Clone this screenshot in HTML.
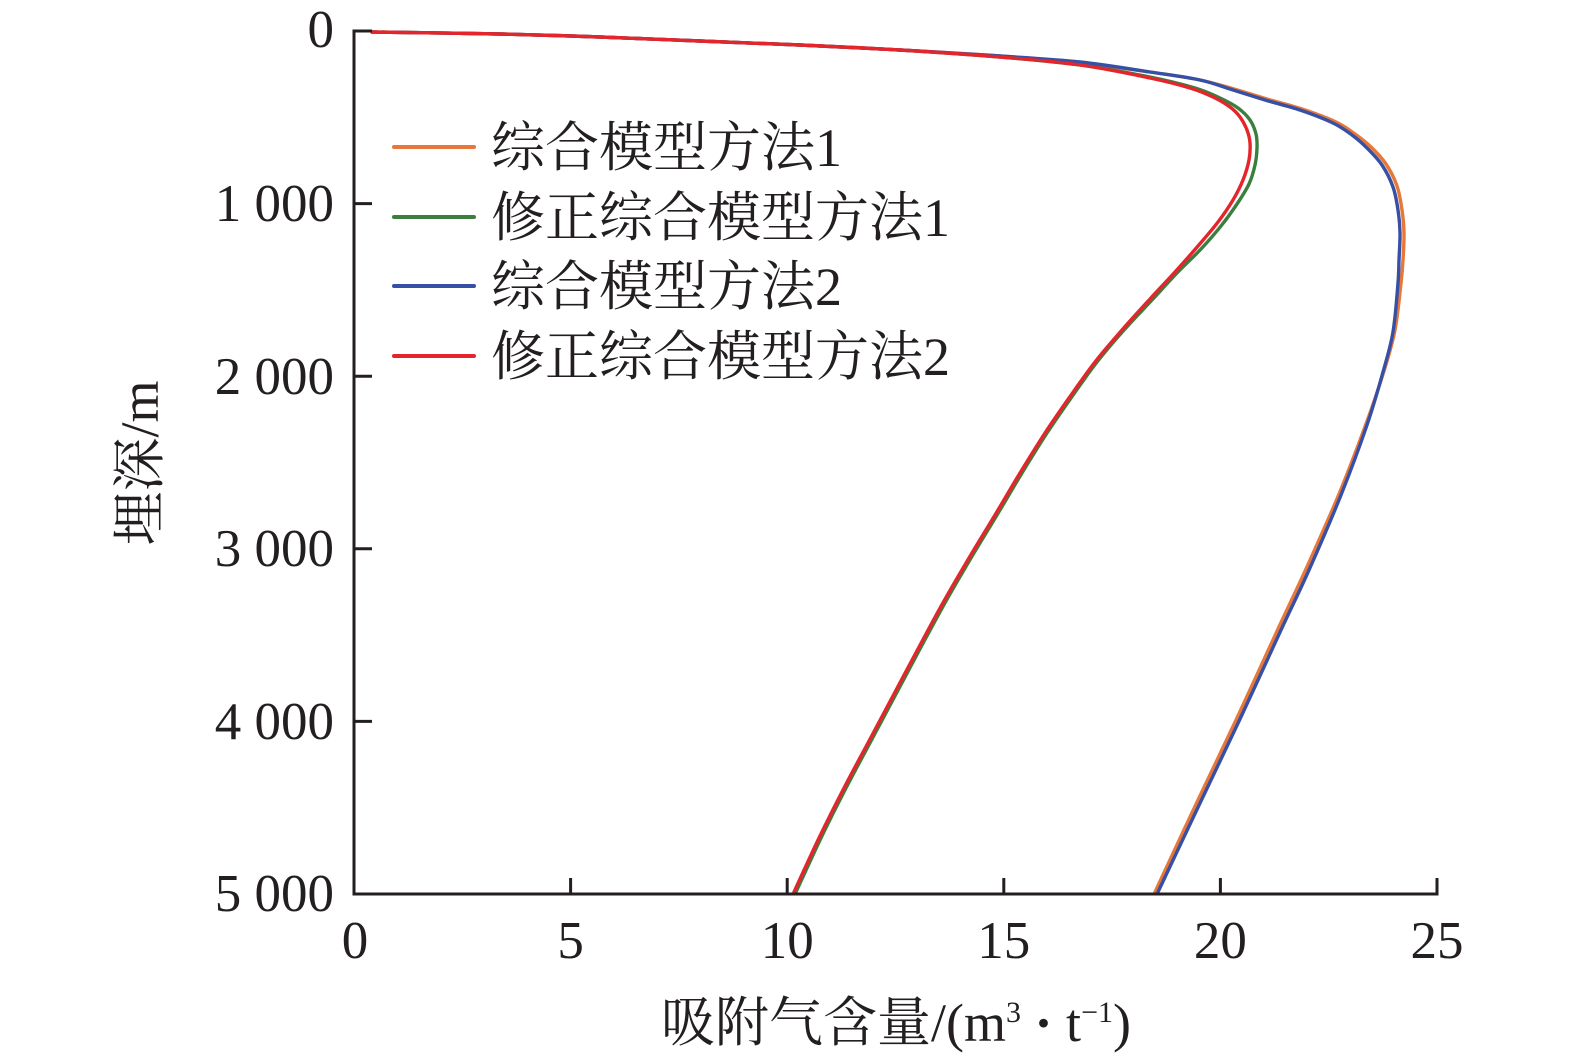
<!DOCTYPE html>
<html>
<head>
<meta charset="utf-8">
<style>
  html,body{margin:0;padding:0;background:#fff;}
  svg{display:block;}
  text{font-family:"Liberation Serif","Noto Serif CJK SC",serif;fill:#231f20;}
</style>
</head>
<body>
<svg id="chart" width="1575" height="1055" viewBox="0 0 1575 1055" xmlns="http://www.w3.org/2000/svg">
  <rect width="1575" height="1055" fill="#fff"/>

  <!-- curves -->
  <g id="curves" fill="none" stroke-width="3.4" stroke-linejoin="round" stroke-linecap="round">
    <!-- orange: 综合模型方法1 -->
    <polyline class="smooth" stroke="#E8773A" points="372,32 500,34 600,37 700,41 800,45 900,50 1000,56 1080,63 1150,72 1200,80 1234,89 1267,99 1302,109 1336,122 1355,134 1371,147 1386,164 1397,186 1402,210 1404,233 1403,260 1401,283 1395,330 1384,371 1366,424 1339,494 1306,569 1278,629 1237,718 1198,800 1155,892"/>
    <!-- green: 修正综合模型方法1 -->
    <polyline class="smooth" stroke="#3B7F3E" points="372,32 500,34 600,37 700,41 800,45 900,50 1000,57 1080,65 1150,77 1195,88 1220,98 1238,108 1250,120 1256,134 1257,148 1255,165 1249,184 1237,204 1221,226 1201,249 1177,273 1152,300 1124,330 1097,362 1071,398 1047,433 1022,473 997,515 971,558 946,601 921,647 896,694 871,741 846,788 821,838 796,892"/>
    <!-- blue: 综合模型方法2 -->
    <polyline class="smooth" stroke="#3550A5" points="372,32 500,34 600,37 700,41 800,45 900,50 1000,56 1080,62 1150,72 1200,80 1233,90 1265,100 1300,110 1333,123 1352,135 1367,148 1382,165 1393,187 1398,210 1400,233 1399,260 1398,283 1393,332 1383,372 1367,425 1341,495 1309,570 1281,630 1240,719 1201,801 1158,892"/>
    <!-- red: 修正综合模型方法2 -->
    <polyline class="smooth" stroke="#E4262C" points="372,32 500,34 600,37 700,41 800,45 900,50 1000,57 1080,65 1150,78 1190,88 1213,97 1230,107 1240,117 1247,130 1250,143 1249,160 1243,180 1233,200 1218,222 1198,246 1175,272 1150,299 1122,330 1095,362 1069,398 1045,433 1020,473 995,515 969,558 944,601 919,647 894,694 869,741 844,788 819,838 794,892"/>
  </g>

  <!-- axes -->
  <g stroke="#231f20" stroke-width="3" fill="none">
    <line x1="354" y1="29.5" x2="354" y2="895.5"/>
    <line x1="352.5" y1="894" x2="1437" y2="894"/>
    <!-- y ticks -->
    <line x1="354" y1="31" x2="372" y2="31"/>
    <line x1="354" y1="203.6" x2="372" y2="203.6"/>
    <line x1="354" y1="376.2" x2="372" y2="376.2"/>
    <line x1="354" y1="548.8" x2="372" y2="548.8"/>
    <line x1="354" y1="721.4" x2="372" y2="721.4"/>
    <!-- x ticks -->
    <line x1="570.6" y1="894" x2="570.6" y2="878"/>
    <line x1="787.2" y1="894" x2="787.2" y2="878"/>
    <line x1="1003.8" y1="894" x2="1003.8" y2="878"/>
    <line x1="1220.4" y1="894" x2="1220.4" y2="878"/>
    <line x1="1437" y1="895.5" x2="1437" y2="878"/>
  </g>

  <!-- y tick labels -->
  <g font-size="53" text-anchor="end">
    <text x="334" y="47">0</text>
    <text x="334" y="221">1 000</text>
    <text x="334" y="394">2 000</text>
    <text x="334" y="566">3 000</text>
    <text x="334" y="739">4 000</text>
    <text x="334" y="911">5 000</text>
  </g>

  <!-- x tick labels -->
  <g font-size="53" text-anchor="middle">
    <text x="355" y="958">0</text>
    <text x="570.6" y="958">5</text>
    <text x="787.2" y="958">10</text>
    <text x="1003.8" y="958">15</text>
    <text x="1220.4" y="958">20</text>
    <text x="1437" y="958">25</text>
  </g>

  <!-- axis titles -->
  <text transform="translate(138,463) rotate(-90)" x="0" y="20" font-size="54" text-anchor="middle">埋深/m</text>
  <text x="896" y="1041" font-size="54" text-anchor="middle">吸附气含量/(m<tspan font-size="30" dy="-19">3</tspan><tspan dy="19" font-weight="bold"> · </tspan>t<tspan font-size="30" dy="-19">−1</tspan><tspan dy="19">)</tspan></text>

  <!-- legend -->
  <g stroke-width="4" stroke-linecap="round">
    <line x1="394" y1="147" x2="474" y2="147" stroke="#E8773A"/>
    <line x1="394" y1="217" x2="474" y2="217" stroke="#3B7F3E"/>
    <line x1="394" y1="286" x2="474" y2="286" stroke="#3550A5"/>
    <line x1="394" y1="356" x2="474" y2="356" stroke="#E4262C"/>
  </g>
  <g font-size="54">
    <text x="491" y="166">综合模型方法1</text>
    <text x="491" y="236">修正综合模型方法1</text>
    <text x="491" y="305">综合模型方法2</text>
    <text x="491" y="375">修正综合模型方法2</text>
  </g>
</svg>
<script>
(function(){
  var NS="http://www.w3.org/2000/svg";
  var pls=document.querySelectorAll("polyline.smooth");
  for(var k=0;k<pls.length;k++){
    var pl=pls[k];
    var raw=pl.getAttribute("points").trim().split(/\s+/);
    var p=raw.map(function(s){var a=s.split(",");return [parseFloat(a[0]),parseFloat(a[1])];});
    var d="M"+p[0][0]+","+p[0][1];
    for(var i=0;i<p.length-1;i++){
      var p0=p[i>0?i-1:i],p1=p[i],p2=p[i+1],p3=p[i+2<p.length?i+2:i+1];
      var c1x=p1[0]+(p2[0]-p0[0])/6,c1y=p1[1]+(p2[1]-p0[1])/6;
      var c2x=p2[0]-(p3[0]-p1[0])/6,c2y=p2[1]-(p3[1]-p1[1])/6;
      d+=" C"+c1x.toFixed(2)+","+c1y.toFixed(2)+" "+c2x.toFixed(2)+","+c2y.toFixed(2)+" "+p2[0]+","+p2[1];
    }
    var path=document.createElementNS(NS,"path");
    path.setAttribute("d",d);
    path.setAttribute("stroke",pl.getAttribute("stroke"));
    pl.parentNode.replaceChild(path,pl);
  }
})();
</script>
</body>
</html>
